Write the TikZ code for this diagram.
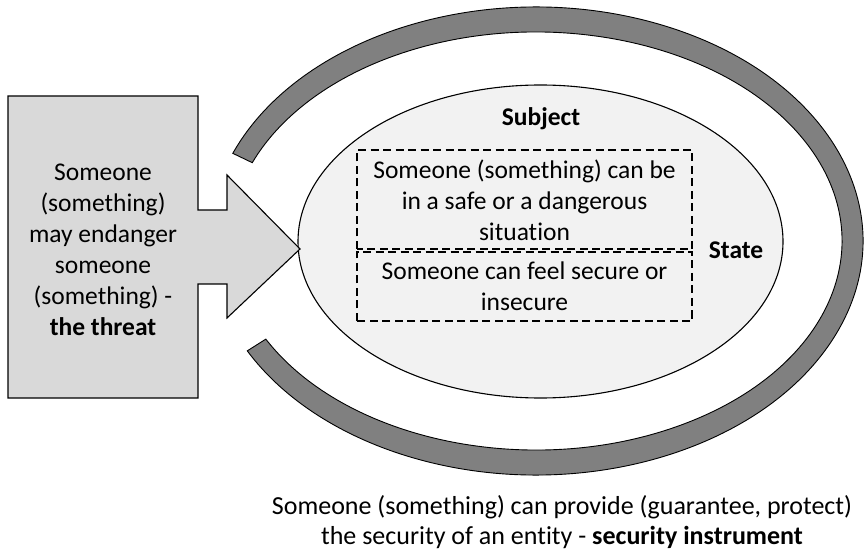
\documentclass[tikz,border=0pt]{standalone}
\usepackage{fontspec}
\setmainfont[Ligatures=NoCommon]{Carlito}
\usetikzlibrary{calc,shapes.geometric}
\definecolor{boxgray}{RGB}{217,217,217}
\definecolor{ellgray}{RGB}{242,242,242}
\definecolor{ringgray}{RGB}{128,128,128}
\tikzset{
  txt/.style={font=\fontsize{25.5}{31}\selectfont, align=center, inner sep=0pt},
  dashbox/.style={draw=black, line width=1.4pt, dash pattern=on 8pt off 4.5pt},
  ringstyle/.style={draw=black, line width=0.9pt, fill=ringgray},
}
\begin{document}
\begin{tikzpicture}[x=1pt,y=1pt]
\useasboundingbox (0,0) rectangle (864,552);
% ring
\coordinate (rc) at (536,311);
\draw[ringstyle] ($(rc)+(158:327 and 234)$) arc[start angle=158, end angle=-152, x radius=327, y radius=234]
  -- ($(rc)+(-152:306 and 209)$) arc[start angle=-152, end angle=158, x radius=306, y radius=209] -- cycle;
% subject ellipse
\node[ellipse, draw=black, line width=1.1pt, fill=ellgray, minimum width=485pt, minimum height=313pt, inner sep=0pt] (subj) at (540.5,310.5) {};
% threat box with arrow
\draw[line width=1.1pt, fill=boxgray] (8,456) -- (198,456) -- (198,342) -- (227,342) -- (227,377) -- (300,303)
  -- (227,234) -- (227,268) -- (198,268) -- (198,154) -- (8,154) -- cycle;
\node[txt] (threat) at (103,302.5) {Someone\\(something)\\may endanger\\someone\\(something) -\\\textbf{the threat}};
% dashed boxes
\draw[dashbox] (357,303) rectangle (692,402);
\draw[dashbox] (357,231) rectangle (692,300);
\node[txt] (safe) at (524.5,352) {Someone (something) can be\\in a safe or a dangerous\\situation};
\node[txt] (feel) at (524.5,266) {Someone can feel secure or\\insecure};
\node[txt, font=\fontsize{25.5}{31}\selectfont\bfseries] (subject) at (541,433) {Subject};
\node[txt, font=\fontsize{25.5}{31}\selectfont\bfseries] (state) at (736,302) {State};
\node[txt, font=\fontsize{26}{30}\selectfont] (instr) at (562,30) {Someone (something) can provide (guarantee, protect)\\the security of an entity - \textbf{security instrument}};
\end{tikzpicture}
\end{document}
